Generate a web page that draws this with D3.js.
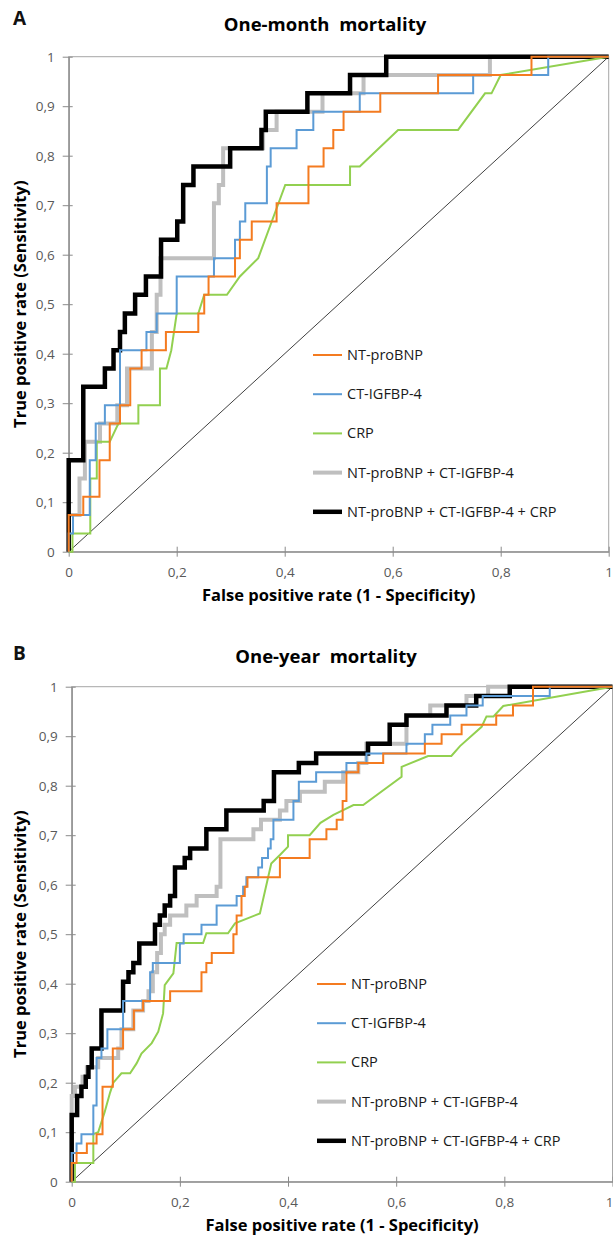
<!DOCTYPE html>
<html>
<head>
<meta charset="utf-8">
<script src="https://cdn.jsdelivr.net/npm/d3@7"></script>
<style>
  body { margin: 0; background: #fff; }
  svg text { font-family: "Open Sans", sans-serif; }
</style>
</head>
<body>
<svg id="chart" width="613" height="1239"></svg>
<script>
// legend names, same order as the series arrays below
const seriesNames = ['NT-proBNP', 'CT-IGFBP-4', 'CRP', 'NT-proBNP + CT-IGFBP-4', 'NT-proBNP + CT-IGFBP-4 + CRP'];
const xTicks = [0, 0.2, 0.4, 0.6, 0.8, 1];
const yTicks = [0, 0.1, 0.2, 0.3, 0.4, 0.5, 0.6, 0.7, 0.8, 0.9, 1];

// ROC points [false positive rate, true positive rate]
// step curves: each point is where the curve jumps up to (step-after)
const monthNtProBnp = [[0,0],[0,0.074],[0.027,0.111],[0.057,0.185],[0.076,0.259],[0.095,0.296],[0.114,0.37],[0.135,0.407],[0.18,0.444],[0.24,0.481],[0.251,0.519],[0.259,0.556],[0.308,0.593],[0.317,0.63],[0.339,0.667],[0.385,0.704],[0.444,0.778],[0.472,0.815],[0.49,0.852],[0.509,0.889],[0.577,0.926],[0.684,0.963],[0.857,1],[1,1]];
const monthCtIgfbp4 = [[0,0],[0,0.037],[0.008,0.074],[0.039,0.185],[0.05,0.259],[0.067,0.296],[0.095,0.407],[0.144,0.444],[0.163,0.481],[0.2,0.556],[0.269,0.593],[0.308,0.63],[0.317,0.667],[0.327,0.704],[0.367,0.778],[0.374,0.815],[0.422,0.852],[0.453,0.889],[0.539,0.926],[0.749,0.963],[0.888,1],[1,1]];
// CRP has tied values, so it is drawn point to point
const monthCrp = [[0,0],[0.007,0],[0.007,0.037],[0.04,0.037],[0.04,0.148],[0.052,0.148],[0.052,0.222],[0.076,0.222],[0.092,0.259],[0.129,0.259],[0.129,0.296],[0.169,0.296],[0.169,0.37],[0.181,0.37],[0.19,0.407],[0.2,0.481],[0.24,0.481],[0.251,0.519],[0.293,0.519],[0.317,0.556],[0.351,0.593],[0.401,0.741],[0.521,0.741],[0.521,0.778],[0.539,0.778],[0.61,0.852],[0.721,0.852],[0.771,0.926],[0.783,0.926],[0.8,0.963],[1,1]];
const monthNtCt = [[0,0],[0,0.074],[0.02,0.148],[0.03,0.222],[0.058,0.259],[0.09,0.296],[0.108,0.37],[0.154,0.444],[0.163,0.519],[0.17,0.593],[0.269,0.704],[0.278,0.741],[0.286,0.815],[0.36,0.852],[0.385,0.889],[0.47,0.926],[0.546,0.963],[0.78,1],[1,1]];
const monthAll = [[0,0],[0,0.185],[0.027,0.333],[0.067,0.37],[0.083,0.407],[0.095,0.444],[0.104,0.481],[0.123,0.519],[0.143,0.556],[0.171,0.63],[0.201,0.667],[0.212,0.741],[0.231,0.778],[0.299,0.815],[0.357,0.852],[0.365,0.889],[0.442,0.926],[0.521,0.963],[0.588,1],[1,1]];

const yearNtProBnp = [[0,0],[0,0.038],[0.009,0.058],[0.028,0.077],[0.046,0.096],[0.057,0.192],[0.076,0.269],[0.095,0.308],[0.115,0.346],[0.132,0.365],[0.182,0.385],[0.24,0.423],[0.249,0.442],[0.259,0.462],[0.299,0.5],[0.305,0.538],[0.314,0.577],[0.32,0.596],[0.325,0.615],[0.385,0.654],[0.44,0.692],[0.471,0.712],[0.49,0.731],[0.501,0.769],[0.508,0.827],[0.53,0.846],[0.576,0.865],[0.653,0.885],[0.684,0.904],[0.721,0.923],[0.785,0.942],[0.816,0.962],[0.853,1],[1,1]];
const yearCtIgfbp4 = [[0,0],[0,0.058],[0.009,0.077],[0.018,0.096],[0.04,0.154],[0.046,0.25],[0.055,0.269],[0.066,0.308],[0.095,0.365],[0.145,0.423],[0.15,0.442],[0.2,0.481],[0.207,0.5],[0.24,0.519],[0.268,0.558],[0.305,0.577],[0.317,0.596],[0.323,0.615],[0.345,0.635],[0.352,0.654],[0.363,0.673],[0.368,0.692],[0.373,0.731],[0.41,0.769],[0.42,0.808],[0.452,0.827],[0.508,0.846],[0.545,0.865],[0.619,0.885],[0.653,0.904],[0.667,0.923],[0.7,0.942],[0.73,0.962],[0.76,0.981],[0.884,1],[1,1]];
const yearCrp = [[0,0],[0.006,0],[0.006,0.038],[0.04,0.038],[0.04,0.096],[0.049,0.1],[0.061,0.141],[0.071,0.18],[0.077,0.2],[0.092,0.219],[0.108,0.219],[0.12,0.239],[0.129,0.259],[0.148,0.28],[0.16,0.303],[0.169,0.34],[0.172,0.397],[0.188,0.421],[0.194,0.482],[0.243,0.482],[0.249,0.502],[0.289,0.502],[0.302,0.522],[0.348,0.542],[0.369,0.643],[0.385,0.66],[0.4,0.677],[0.4,0.7],[0.44,0.7],[0.46,0.725],[0.484,0.741],[0.521,0.761],[0.539,0.761],[0.61,0.818],[0.61,0.838],[0.659,0.86],[0.702,0.86],[0.718,0.88],[0.758,0.919],[0.767,0.94],[0.78,0.94],[0.798,0.961],[1,1]];
const yearNtCt = [[0,0],[0,0.173],[0.006,0.192],[0.02,0.212],[0.028,0.231],[0.049,0.25],[0.086,0.269],[0.092,0.308],[0.114,0.346],[0.132,0.365],[0.142,0.385],[0.15,0.423],[0.158,0.462],[0.165,0.5],[0.172,0.519],[0.182,0.538],[0.212,0.558],[0.231,0.577],[0.268,0.596],[0.275,0.692],[0.336,0.712],[0.35,0.731],[0.385,0.75],[0.397,0.769],[0.422,0.788],[0.468,0.808],[0.502,0.827],[0.53,0.846],[0.545,0.885],[0.619,0.942],[0.663,0.962],[0.73,0.981],[0.77,1],[1,1]];
const yearAll = [[0,0],[0,0.135],[0.01,0.173],[0.018,0.192],[0.026,0.212],[0.031,0.231],[0.037,0.269],[0.055,0.346],[0.095,0.404],[0.105,0.423],[0.114,0.442],[0.125,0.481],[0.154,0.519],[0.163,0.538],[0.172,0.558],[0.182,0.577],[0.191,0.635],[0.209,0.654],[0.219,0.673],[0.249,0.712],[0.286,0.75],[0.355,0.769],[0.374,0.827],[0.42,0.846],[0.452,0.865],[0.548,0.885],[0.588,0.923],[0.619,0.942],[0.693,0.962],[0.748,0.981],[0.81,1],[1,1]];

// styles per series (legend order)
const colors = ['#f47b20', '#5b9bd5', '#92d050', '#bfbfbf', '#000000'];
const widths = [2, 2, 2, 4, 4.5];
const stepped = [true, true, false, true, true];
const drawOrder = [3, 4, 2, 1, 0];

const panels = [
  { letter: 'A', title: 'One-month  mortality', data: [monthNtProBnp, monthCtIgfbp4, monthCrp, monthNtCt, monthAll],
    box: { l: 68.7, r: 608.7, t: 56.7, b: 551.7 }, letterY: 25, titleX: 325, titleY: 31, xLabelY: 601, legendX: 313, legendY: 355 },
  { letter: 'B', title: 'One-year  mortality', data: [yearNtProBnp, yearCtIgfbp4, yearCrp, yearNtCt, yearAll],
    box: { l: 71.7, r: 612.5, t: 686.7, b: 1181.7 }, letterY: 660, titleX: 326, titleY: 663, xLabelY: 1231, legendX: 317, legendY: 984 }
];

const W = 613;
const svg = d3.select('#chart');
svg.append('rect').attr('width', W).attr('height', 1239).attr('fill', '#fff');

const locale = d3.formatLocale({ decimal: ',', thousands: '.', grouping: [3], currency: ['', ''] });
const fmt = locale.format('~g');

panels.forEach(p => {
  const x = d3.scaleLinear().domain([0, 1]).range([p.box.l, p.box.r]);
  const y = d3.scaleLinear().domain([0, 1]).range([p.box.b, p.box.t]);
  const g = svg.append('g');

  // panel letter + title
  g.append('text').attr('x', 13).attr('y', p.letterY)
    .attr('font-size', 19).attr('font-weight', 700).attr('fill', '#111').text(p.letter);
  g.append('text').attr('x', p.titleX).attr('y', p.titleY)
    .attr('text-anchor', 'middle').attr('font-size', 18.5).attr('font-weight', 700)
    .style('white-space', 'pre').text(p.title);

  // plot frame (top/right)
  g.append('rect').attr('x', x(0)).attr('y', y(1))
    .attr('width', x(1) - x(0)).attr('height', y(0) - y(1))
    .attr('fill', 'none').attr('stroke', '#a6a6a6').attr('stroke-width', 1);

  // axes
  const xAxis = g.append('g').attr('transform', `translate(0,${y(0)})`)
    .call(d3.axisBottom(x).tickValues(xTicks).tickFormat(fmt).tickSize(5).tickSizeOuter(0));
  xAxis.selectAll('.tick line').attr('y1', -5).attr('stroke', '#8a8a8a');
  xAxis.selectAll('.tick text').attr('y', 16).attr('font-size', 13.5).attr('fill', '#595959');
  // last label sits on the page edge: keep it inside
  xAxis.selectAll('.tick text').filter(d => d === 1 && x(1) + 4 > W)
    .attr('text-anchor', 'end').attr('x', W - x(1));

  const yAxis = g.append('g').attr('transform', `translate(${x(0)},0)`)
    .call(d3.axisLeft(y).tickValues(yTicks).tickFormat(fmt).tickSize(6).tickSizeOuter(0));
  yAxis.selectAll('.tick line').attr('x1', 4).attr('stroke', '#8a8a8a');
  yAxis.selectAll('.tick text').attr('x', -14).attr('font-size', 13.5).attr('fill', '#595959');

  [xAxis, yAxis].forEach(a => {
    a.select('.domain').attr('stroke', '#8a8a8a').attr('stroke-width', 1.3);
    a.selectAll('text').style('font-family', '"Open Sans", sans-serif');
  });

  // axis titles
  g.append('text').attr('x', (x(0) + x(1)) / 2).attr('y', p.xLabelY)
    .attr('text-anchor', 'middle').attr('font-size', 16.5).attr('font-weight', 700)
    .text('False positive rate (1 - Specificity)');
  g.append('text')
    .attr('transform', `translate(26,${(y(0) + y(1)) / 2}) rotate(-90)`)
    .attr('text-anchor', 'middle').attr('font-size', 16.5).attr('font-weight', 700)
    .text('True positive rate (Sensitivity)');

  // chance diagonal
  g.append('line').attr('x1', x(0)).attr('y1', y(0)).attr('x2', x(1)).attr('y2', y(1))
    .attr('stroke', '#404040').attr('stroke-width', 1);

  // ROC curves
  drawOrder.forEach(i => {
    const line = d3.line().x(d => x(d[0])).y(d => y(d[1]))
      .curve(stepped[i] ? d3.curveStepAfter : d3.curveLinear);
    g.append('path').datum(p.data[i])
      .attr('d', line)
      .attr('fill', 'none')
      .attr('stroke', colors[i])
      .attr('stroke-width', widths[i])
      .attr('stroke-linejoin', 'miter');
  });

  // legend
  const leg = g.append('g').selectAll('g').data(seriesNames).enter().append('g')
    .attr('transform', (d, i) => `translate(${p.legendX},${p.legendY + i * 39.2})`);
  leg.append('line').attr('x1', 0).attr('x2', 29)
    .attr('stroke', (d, i) => colors[i]).attr('stroke-width', (d, i) => widths[i]);
  leg.append('text').attr('x', 34).attr('dy', '0.35em')
    .attr('font-size', 14.5).attr('fill', '#1a1a1a').text(d => d);
});
</script>
</body>
</html>
